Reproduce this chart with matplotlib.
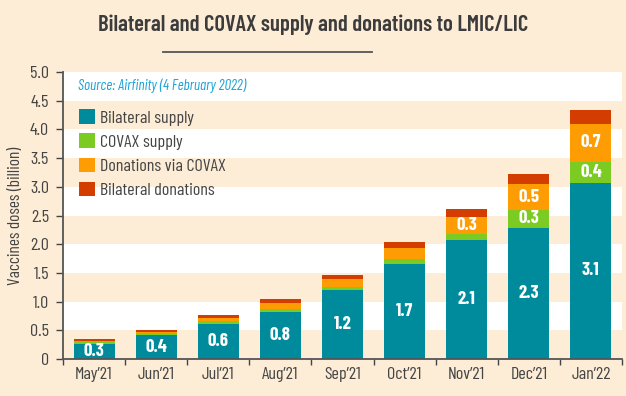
import matplotlib.pyplot as plt
import numpy as np

# data (billion doses)
months = ["May\u201921", "Jun\u201921", "Jul\u201921", "Aug\u201921", "Sep\u201921",
          "Oct\u201921", "Nov\u201921", "Dec\u201921", "Jan\u201922"]
bilateral_supply = [0.27, 0.41, 0.61, 0.82, 1.20, 1.66, 2.07, 2.29, 3.07]
covax_supply = [0.04, 0.05, 0.05, 0.05, 0.05, 0.09, 0.10, 0.30, 0.37]
donations_covax = [0.01, 0.01, 0.06, 0.10, 0.14, 0.19, 0.30, 0.46, 0.66]
bilateral_donations = [0.02, 0.03, 0.05, 0.08, 0.08, 0.10, 0.14, 0.17, 0.23]

series = [
    ("Bilateral supply", bilateral_supply, "#008B9C"),
    ("COVAX supply", covax_supply, "#7BCB22"),
    ("Donations via COVAX", donations_covax, "#FD9C03"),
    ("Bilateral donations", bilateral_donations, "#D33D00"),
]

BG = "#FDEDD6"
DARK = "#444444"
FONT = ["Barlow Condensed", "Asap Condensed", "DejaVu Sans"]

plt.rcParams["font.family"] = FONT

fig = plt.figure(figsize=(6.26, 3.96), dpi=100, facecolor=BG)
ax = fig.add_axes([0.1006, 0.0934, 0.8930, 0.7248])
ax.set_facecolor(BG)

# alternating white bands
for lo in np.arange(0.5, 5.0, 1.0):
    ax.axhspan(lo, lo + 0.5, color="white", lw=0, zorder=0)

x = np.arange(len(months))
bottom = np.zeros(len(months))
for name, vals, color in series:
    vals = np.array(vals)
    ax.bar(x, vals, 0.66, bottom=bottom, color=color, label=name, zorder=2)
    for xi, b, v in zip(x, bottom, vals):
        if v >= 0.25:
            ax.text(xi, b + v / 2, f"{v:.1f}", ha="center", va="center",
                    color="white", fontsize=13.5, fontweight="bold", zorder=3)
    bottom += vals

ax.set_xlim(-0.5, len(months) - 0.5)
ax.set_ylim(0, 5.0)
ax.set_yticks(np.arange(0, 5.01, 0.5))
ax.set_yticklabels(["0"] + [f"{v:.1f}" for v in np.arange(0.5, 5.01, 0.5)])
ax.set_xticks(x)
ax.set_xticklabels(months)
ax.set_xticks(np.arange(-0.5, len(months)), minor=True)
ax.tick_params(axis="y", direction="out", length=5, width=1, color=DARK,
               labelsize=13, labelcolor=DARK, pad=5)
ax.tick_params(axis="x", which="major", length=0, labelsize=13,
               labelcolor=DARK, pad=6)
ax.tick_params(axis="x", which="minor", direction="out", length=4, width=1,
               color=DARK)

for side in ["top", "right"]:
    ax.spines[side].set_visible(False)
for side in ["left", "bottom"]:
    ax.spines[side].set_color("#555555")
    ax.spines[side].set_linewidth(1.3)

ax.set_ylabel("Vaccines doses (billion)", fontsize=12.5, color=DARK, labelpad=5)

ax.text(0.027, 0.951, "Source: Airfinity (4 February 2022)", transform=ax.transAxes,
        fontsize=10.8, style="italic", color="#19A3D6", va="center")

leg = ax.legend(loc="upper left", bbox_to_anchor=(0.0, 0.927), frameon=False,
                fontsize=13, handlelength=0.85, handleheight=0.85,
                handletextpad=0.3, labelspacing=0.43, borderaxespad=0.5)
for t in leg.get_texts():
    t.set_color(DARK)

title = fig.text(0.5, 0.937, "Bilateral and COVAX supply and donations to LMIC/LIC",
                 ha="center", va="center", fontsize=21, fontweight="semibold",
                 color="#3C3C3C")
# fit the title to the reference width (~431 px)
renderer = fig.canvas.get_renderer()
w = title.get_window_extent(renderer).width
title.set_fontsize(21 * 431 / w)
fig.add_artist(plt.Line2D([0.26, 0.595], [0.869, 0.869], color="#555555",
                          lw=1.3, transform=fig.transFigure))

fig.savefig("out.png", dpi=100, facecolor=BG)
